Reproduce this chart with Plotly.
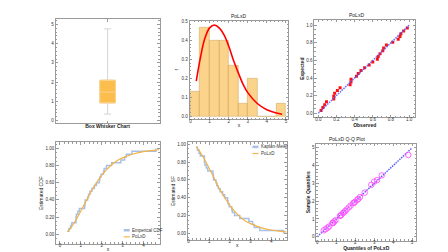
import plotly.graph_objects as go

# ---------------- data ----------------
# sorted sample (n = 30)
sample = [0.36, 0.43, 0.51, 0.57, 0.77, 0.77, 0.79, 0.86, 0.93, 1.18,
          1.20, 1.21, 1.33, 1.37, 1.44, 1.53, 1.65, 1.75, 1.89, 1.91,
          1.97, 2.09, 2.12, 2.23, 2.48, 2.92, 3.10, 3.18, 3.45, 4.60]

# box-whisker statistics
box_stats = dict(lower=0.34, q1=0.92, median=1.48, q3=2.10, upper=4.77)

# histogram (density scale)
hist_left = [0.0, 0.5, 1.0, 1.5, 2.0, 2.5, 3.0, 3.5, 4.0, 4.5]
hist_density = [0.133, 0.467, 0.400, 0.400, 0.267, 0.067, 0.200, 0.0, 0.0, 0.067]
bin_width = 0.5

# fitted PoLxD density
pdf_x = [0.3, 0.5, 0.75, 1.0, 1.25, 1.5, 1.75, 2.0, 2.25, 2.5, 2.75, 3.0, 3.5, 4.0, 4.5, 4.8]
pdf_y = [0.185, 0.30, 0.41, 0.465, 0.48, 0.465, 0.43, 0.37, 0.295, 0.23, 0.17, 0.125, 0.068, 0.035, 0.018, 0.012]

# fitted PoLxD CDF
cdf_x = [0.36, 0.5, 0.75, 1.0, 1.25, 1.5, 1.75, 2.0, 2.25, 2.5, 2.75, 3.0, 3.5, 4.0, 4.5, 4.75]
cdf_y = [0.03, 0.065, 0.16, 0.27, 0.385, 0.50, 0.60, 0.685, 0.755, 0.815, 0.86, 0.89, 0.935, 0.962, 0.978, 0.985]

# P-P plot
pp_observed = [0.03, 0.05, 0.07, 0.09, 0.17, 0.17, 0.18, 0.21, 0.24, 0.35,
               0.36, 0.36, 0.42, 0.44, 0.47, 0.51, 0.56, 0.60, 0.65, 0.66,
               0.68, 0.71, 0.72, 0.75, 0.82, 0.88, 0.90, 0.91, 0.94, 0.98]
pp_expected = [0.032, 0.065, 0.097, 0.129, 0.161, 0.194, 0.226, 0.258, 0.290, 0.323,
               0.355, 0.387, 0.419, 0.452, 0.484, 0.516, 0.548, 0.581, 0.613, 0.645,
               0.677, 0.710, 0.742, 0.774, 0.806, 0.839, 0.871, 0.903, 0.935, 0.968]

# Q-Q plot theoretical quantiles
qq_theoretical = [0.34, 0.45, 0.55, 0.62, 0.80, 0.82, 0.84, 0.90, 0.96, 1.20,
                  1.23, 1.25, 1.36, 1.40, 1.47, 1.55, 1.66, 1.76, 1.90, 1.93,
                  2.00, 2.12, 2.16, 2.25, 2.50, 2.85, 3.00, 3.15, 3.40, 4.80]

# ---------------- helpers ----------------
W, H = 448, 252
AX = '#9a9a9a'
TXT = '#333333'
FS = 4.5
FONT = 'Liberation Sans'


def px(x):
    return x / W


def py(y):
    return 1 - y / H


def dom_x(a, b):
    return [a / W, b / W]


def dom_y(top, bot):
    return [1 - bot / H, 1 - top / H]


def axis(domain, rng, anchor, title='', tickvals=None, ticktext=None, dtick=None,
         fmt=None, minor=None, bold=False, standoff=1, lab_off=0):
    d = dict(domain=domain, range=rng, anchor=anchor, showline=True, mirror='ticks',
             linecolor=AX, linewidth=1, ticks='inside', ticklen=2.5, tickcolor=AX,
             tickwidth=0.6, showgrid=False, zeroline=False,
             tickfont=dict(size=FS, color=TXT, family=FONT), ticklabelstandoff=lab_off)
    if title:
        t = '<b>%s</b>' % title if bold else title
        d['title'] = dict(text=t, font=dict(size=5, color='#222', family=FONT),
                          standoff=standoff)
    if tickvals is not None:
        d['tickmode'] = 'array'
        d['tickvals'] = tickvals
        if ticktext is not None:
            d['ticktext'] = ticktext
    elif dtick is not None:
        d['dtick'] = dtick
        d['tick0'] = 0
    if fmt:
        d['tickformat'] = fmt
    if minor:
        d['minor'] = dict(ticks='inside', ticklen=1.3, tickcolor=AX, dtick=minor, tickwidth=0.5)
    return d


fig = go.Figure()

# ---------------- panel 1: box whisker ----------------
ORANGE = '#fbbd4b'
fig.add_trace(go.Box(x0=0, q1=[box_stats['q1']], median=[box_stats['median']],
                     q3=[box_stats['q3']], lowerfence=[box_stats['lower']],
                     upperfence=[box_stats['upper']], fillcolor=ORANGE,
                     line=dict(color='#d4d4d4', width=1), width=0.15, whiskerwidth=0.45,
                     xaxis='x', yaxis='y', showlegend=False, hoverinfo='skip'))
fig.add_trace(go.Box(x0=0, q1=[box_stats['q1']], median=[box_stats['median']],
                     q3=[box_stats['q3']], lowerfence=[box_stats['q1']],
                     upperfence=[box_stats['q3']], fillcolor=ORANGE,
                     line=dict(color='#fcd58e', width=1), width=0.15,
                     xaxis='x', yaxis='y', showlegend=False, hoverinfo='skip'))

# ---------------- panel 2: histogram + density ----------------
fig.add_trace(go.Bar(x=[l + bin_width / 2 for l in hist_left], y=hist_density,
                     width=[bin_width] * len(hist_left),
                     marker=dict(color='rgba(251,196,100,0.75)',
                                 line=dict(color='rgba(200,160,90,0.8)', width=0.6)),
                     xaxis='x2', yaxis='y2', showlegend=False, hoverinfo='skip'))
fig.add_trace(go.Scatter(x=pdf_x, y=pdf_y, mode='lines', line=dict(color='#ff0000', width=1.6, shape='spline'),
                         xaxis='x2', yaxis='y2', showlegend=False, hoverinfo='skip'))

# ---------------- panel 3: P-P plot ----------------
fig.add_trace(go.Scatter(x=pp_observed, y=pp_expected, mode='markers',
                         marker=dict(symbol='square', size=3, color='#ff1010'),
                         xaxis='x3', yaxis='y3', showlegend=False, hoverinfo='skip'))
fig.add_trace(go.Scatter(x=[0, 1], y=[0, 1], mode='lines',
                         line=dict(color='rgba(80,80,255,0.85)', width=1.5, dash='1.5px,1px'),
                         xaxis='x3', yaxis='y3', showlegend=False, hoverinfo='skip'))

# ---------------- panel 4: empirical CDF ----------------
n = len(sample)
ecdf_y = [(i + 1) / n for i in range(n)]
BLUE = '#a9c0e6'
LORANGE = '#f4b345'
fig.add_trace(go.Scatter(x=sample, y=ecdf_y, mode='lines', line=dict(color=BLUE, width=1.5, shape='hv'),
                         xaxis='x4', yaxis='y4', showlegend=False, hoverinfo='skip'))
fig.add_trace(go.Scatter(x=cdf_x, y=cdf_y, mode='lines', line=dict(color=LORANGE, width=1.2, shape='spline'),
                         xaxis='x4', yaxis='y4', showlegend=False, hoverinfo='skip'))

# ---------------- panel 5: survival ----------------
km_y = [1 - v for v in ecdf_y]
sf_y = [1 - v for v in cdf_y]
fig.add_trace(go.Scatter(x=sample, y=km_y, mode='lines', line=dict(color=BLUE, width=1.5, shape='hv'),
                         xaxis='x5', yaxis='y5', showlegend=False, hoverinfo='skip'))
fig.add_trace(go.Scatter(x=cdf_x, y=sf_y, mode='lines', line=dict(color=LORANGE, width=1.2, shape='spline'),
                         xaxis='x5', yaxis='y5', showlegend=False, hoverinfo='skip'))

# ---------------- panel 6: Q-Q plot ----------------
fig.add_trace(go.Scatter(x=[0, 5], y=[0, 5], mode='lines',
                         line=dict(color='#5a5aff', width=1.5, dash='1.5px,1px'),
                         xaxis='x6', yaxis='y6', showlegend=False, hoverinfo='skip'))
fig.add_trace(go.Scatter(x=qq_theoretical, y=sample, mode='markers',
                         marker=dict(symbol='circle-open', size=5.5, color='#ff55ff', line=dict(width=0.9)),
                         xaxis='x6', yaxis='y6', showlegend=False, hoverinfo='skip'))

# ---------------- layout ----------------
d1x, d1y = dom_x(46.7, 151), dom_y(9.3, 114)
d2x, d2y = dom_x(181, 280), dom_y(10.7, 110)
d3x, d3y = dom_x(306, 407), dom_y(10, 108.3)
d4x, d4y = dom_x(47.3, 151), dom_y(133.5, 235.5)
d5x, d5y = dom_x(179.3, 278.3), dom_y(133.5, 231.5)
d6x, d6y = dom_x(308, 408), dom_y(135, 232.5)

# manual legends (line samples + labels)
legend_items = [
    # (x0, x1, y, colour, width, label)
    (115, 121, 222.0, BLUE, 2.5, 'Emperical CDF'),
    (115, 121, 228.7, LORANGE, 1.2, 'PoLxD'),
    (244, 250, 138.0, BLUE, 2.5, 'Kaplan-Meier'),
    (244, 250, 144.7, LORANGE, 1.2, 'PoLxD'),
]
shapes = []
annotations = []
for x0, x1, yy, col, wd, lab in legend_items:
    shapes.append(dict(type='line', xref='paper', yref='paper', x0=px(x0), x1=px(x1),
                       y0=py(yy), y1=py(yy), line=dict(color=col, width=wd)))
    annotations.append(dict(text=lab, x=px(x1 + 1.5), y=py(yy), xref='paper', yref='paper',
                            xanchor='left', yanchor='middle', showarrow=False, borderpad=0,
                            font=dict(size=FS, color=TXT, family=FONT)))

# panel titles
for txt, dx, dy in [('PoLxD', d2x, d2y), ('PoLxD', d3x, d3y), ('PoLxD Q-Q Plot', d6x, d6y)]:
    annotations.append(dict(text=txt, x=(dx[0] + dx[1]) / 2, y=dy[1], xref='paper', yref='paper',
                            yanchor='bottom', showarrow=False, yshift=1, borderpad=0,
                            font=dict(size=5, color='#222', family=FONT)))

LO = -3
lay = dict(
    width=W, height=H, margin=dict(l=0, r=0, t=0, b=0),
    paper_bgcolor='white', plot_bgcolor='white', showlegend=False,
    font=dict(family=FONT, size=FS, color=TXT),
    xaxis=axis(d1x, [-0.5, 0.5], 'y', title='Box Whisker Chart', tickvals=[0], ticktext=[''],
               bold=True, standoff=0, lab_off=LO),
    yaxis=axis(d1y, [-0.13, 5.27], 'x', dtick=1, minor=0.2),
    xaxis2=axis(d2x, [-0.05, 5.13], 'y2', title='x', dtick=1, minor=0.2, standoff=0, lab_off=LO),
    yaxis2=axis(d2y, [-0.014, 0.503], 'x2', title='f', dtick=0.1, fmt='.1f', minor=0.02),
    xaxis3=axis(d3x, [-0.044, 1.066], 'y3', title='Observed', dtick=0.2, fmt='.1f', minor=0.05,
                bold=True, standoff=0, lab_off=LO),
    yaxis3=axis(d3y, [-0.048, 1.06], 'x3', title='Expected', dtick=0.2, fmt='.1f', minor=0.05, bold=True),
    xaxis4=axis(d4x, [-0.18, 4.78], 'y4', title='x', dtick=1, minor=0.2, standoff=0, lab_off=LO),
    yaxis4=axis(d4y, [-0.11, 1.07], 'x4', title='Estimated CDF', dtick=0.2, fmt='.2f', minor=0.05),
    xaxis5=axis(d5x, [-0.03, 4.75], 'y5', title='x', dtick=1, minor=0.2, standoff=0, lab_off=LO),
    yaxis5=axis(d5y, [-0.07, 1.02], 'x5', title='Estimated SF', dtick=0.2, fmt='.2f', minor=0.05),
    xaxis6=axis(d6x, [-0.05, 5.21], 'y6', title='Quantiles of PoLxD', dtick=1, minor=0.2,
                bold=True, standoff=0, lab_off=LO),
    yaxis6=axis(d6y, [-0.22, 5.22], 'x6', title='Sample Quantiles', dtick=1, minor=0.2, bold=True),
    bargap=0,
    shapes=shapes,
    annotations=annotations,
)
fig.update_layout(**lay)
fig.write_html('out.html')
